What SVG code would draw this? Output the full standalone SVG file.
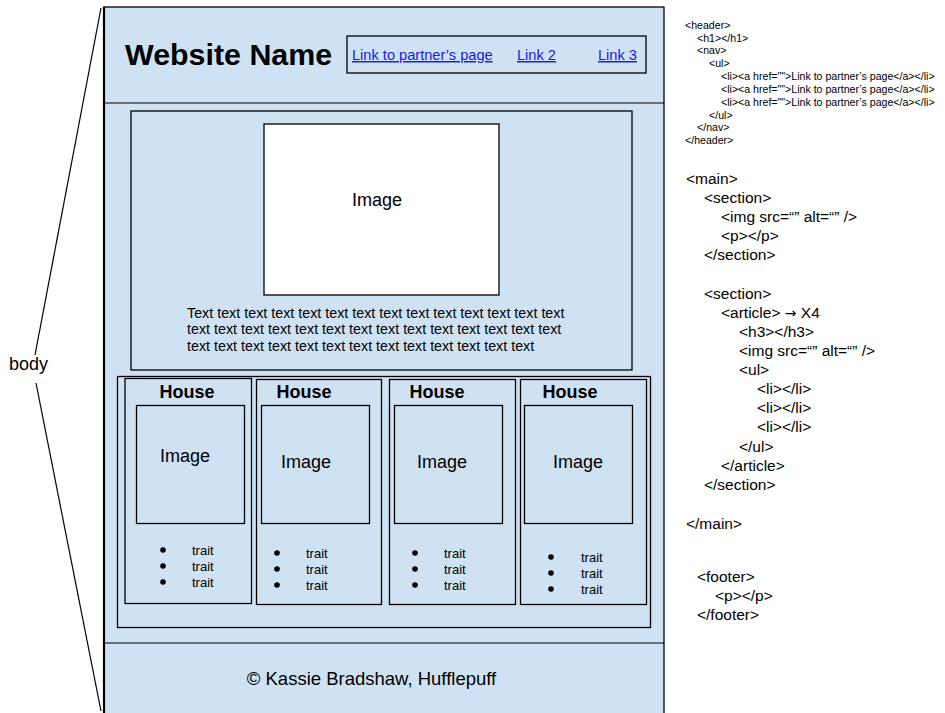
<svg xmlns="http://www.w3.org/2000/svg" width="945" height="713" viewBox="0 0 945 713">
<style>
text{font-family:"Liberation Sans",Arial,sans-serif;fill:#000}
.box{fill:#cfe2f3;stroke:#000;stroke-width:1.3}
.white{fill:#fff;stroke:#000;stroke-width:1.3}
.ln{stroke:#000;stroke-width:1.2;fill:none}
.h3{font-weight:bold;font-size:18px;text-anchor:middle}
.img{font-size:18px;text-anchor:middle}
.tr{font-size:13px}
.para{font-size:14.3px}
.link{font-size:14.6px;fill:#1a1ae6;text-decoration:underline}
.sm{font-size:10.6px}
.md{font-size:15.5px}
</style>
<rect width="945" height="713" fill="#fff"/>
<g id="connectors">
<line class="ln" x1="101" y1="8" x2="35" y2="355"/>
<line class="ln" x1="36" y1="383" x2="101" y2="711"/>
</g>
<g id="body-label"><text x="9" y="370" font-size="18">body</text></g>
<g id="page">
<rect class="box" x="104" y="7" width="560" height="710"/>
<line x1="104" y1="7" x2="104" y2="713" stroke="#000" stroke-width="2.2"/>
<line class="ln" x1="104" y1="103" x2="664" y2="103"/>
<line class="ln" x1="104" y1="643" x2="664" y2="643"/>
</g>
<g id="header">
<text x="125" y="65" font-size="30.4" font-weight="bold">Website Name</text>
<g id="nav">
<rect class="box" x="347" y="36" width="299" height="37"/>
<text class="link" x="352" y="60">Link to partner’s page</text>
<text class="link" x="517" y="60">Link 2</text>
<text class="link" x="598" y="60">Link 3</text>
</g>
</g>
<g id="section1">
<rect class="box" x="131" y="111" width="501" height="259"/>
<rect class="white" x="264" y="124" width="235" height="171"/>
<text class="img" x="377" y="206">Image</text>
<text class="para" x="187" y="318">Text text text text text text text text text text text text text text</text>
<text class="para" x="187" y="334">text text text text text text text text text text text text text text</text>
<text class="para" x="187" y="351">text text text text text text text text text text text text text</text>
</g>
<g id="section2">
<rect class="box" x="117.5" y="376.5" width="533" height="251"/>
</g>
<g id="article1">
<rect class="box" x="125" y="378.5" width="126.5" height="225"/>
<text class="h3" x="187" y="398">House</text>
<rect class="box" x="136.5" y="405.5" width="108" height="118"/>
<text class="img" x="185" y="462">Image</text>
<circle cx="163" cy="550" r="2.8"/><circle cx="163" cy="566" r="2.8"/><circle cx="163" cy="582" r="2.8"/>
<text class="tr" x="192" y="555">trait</text><text class="tr" x="192" y="571">trait</text><text class="tr" x="192" y="587">trait</text>
</g>
<g id="article2">
<rect class="box" x="256.5" y="379.5" width="125" height="225"/>
<text class="h3" x="304" y="398">House</text>
<rect class="box" x="261.5" y="405.5" width="108" height="118"/>
<text class="img" x="306" y="468">Image</text>
<circle cx="277" cy="553" r="2.8"/><circle cx="277" cy="569" r="2.8"/><circle cx="277" cy="585" r="2.8"/>
<text class="tr" x="306" y="558">trait</text><text class="tr" x="306" y="574">trait</text><text class="tr" x="306" y="590">trait</text>
</g>
<g id="article3">
<rect class="box" x="389.5" y="379.5" width="126" height="225"/>
<text class="h3" x="437" y="398">House</text>
<rect class="box" x="394.5" y="405.5" width="108" height="118"/>
<text class="img" x="442" y="468">Image</text>
<circle cx="415" cy="553" r="2.8"/><circle cx="415" cy="569" r="2.8"/><circle cx="415" cy="585" r="2.8"/>
<text class="tr" x="444" y="558">trait</text><text class="tr" x="444" y="574">trait</text><text class="tr" x="444" y="590">trait</text>
</g>
<g id="article4">
<rect class="box" x="520.5" y="379.5" width="126" height="225"/>
<text class="h3" x="570" y="398">House</text>
<rect class="box" x="524.5" y="405.5" width="108" height="118"/>
<text class="img" x="578" y="468">Image</text>
<circle cx="551" cy="557" r="2.8"/><circle cx="551" cy="573" r="2.8"/><circle cx="551" cy="589" r="2.8"/>
<text class="tr" x="581" y="562">trait</text><text class="tr" x="581" y="578">trait</text><text class="tr" x="581" y="594">trait</text>
</g>
<g id="footer">
<text x="371.5" y="685" font-size="18.5" text-anchor="middle">© Kassie Bradshaw, Hufflepuff</text>
</g>
<g id="code-header">
<text class="sm" x="685" y="29">&lt;header&gt;</text>
<text class="sm" x="697" y="42">&lt;h1&gt;&lt;/h1&gt;</text>
<text class="sm" x="697" y="54">&lt;nav&gt;</text>
<text class="sm" x="709" y="67">&lt;ul&gt;</text>
<text class="sm" x="721" y="80">&lt;li&gt;&lt;a href=""&gt;Link to partner’s page&lt;/a&gt;&lt;/li&gt;</text>
<text class="sm" x="721" y="93">&lt;li&gt;&lt;a href=""&gt;Link to partner’s page&lt;/a&gt;&lt;/li&gt;</text>
<text class="sm" x="721" y="106">&lt;li&gt;&lt;a href=""&gt;Link to partner’s page&lt;/a&gt;&lt;/li&gt;</text>
<text class="sm" x="709" y="119">&lt;/ul&gt;</text>
<text class="sm" x="697" y="131">&lt;/nav&gt;</text>
<text class="sm" x="685" y="144">&lt;/header&gt;</text>
</g>
<g id="code-main">
<text class="md" x="686" y="184">&lt;main&gt;</text>
<text class="md" x="704" y="203">&lt;section&gt;</text>
<text class="md" x="721" y="222">&lt;img src=“” alt=“” /&gt;</text>
<text class="md" x="721" y="241">&lt;p&gt;&lt;/p&gt;</text>
<text class="md" x="704" y="260">&lt;/section&gt;</text>
<text class="md" x="704" y="299">&lt;section&gt;</text>
<text class="md" x="721" y="318">&lt;article&gt; <tspan font-family="DejaVu Sans, sans-serif" font-size="14">→</tspan> X4</text>
<text class="md" x="739" y="337">&lt;h3&gt;&lt;/h3&gt;</text>
<text class="md" x="739" y="356">&lt;img src=“” alt=“” /&gt;</text>
<text class="md" x="739" y="375">&lt;ul&gt;</text>
<text class="md" x="757" y="394">&lt;li&gt;&lt;/li&gt;</text>
<text class="md" x="757" y="413">&lt;li&gt;&lt;/li&gt;</text>
<text class="md" x="757" y="432">&lt;li&gt;&lt;/li&gt;</text>
<text class="md" x="739" y="452">&lt;/ul&gt;</text>
<text class="md" x="721" y="471">&lt;/article&gt;</text>
<text class="md" x="704" y="490">&lt;/section&gt;</text>
<text class="md" x="686" y="529">&lt;/main&gt;</text>
</g>
<g id="code-footer">
<text class="md" x="697" y="582">&lt;footer&gt;</text>
<text class="md" x="715" y="601">&lt;p&gt;&lt;/p&gt;</text>
<text class="md" x="697" y="620">&lt;/footer&gt;</text>
</g>
</svg>
